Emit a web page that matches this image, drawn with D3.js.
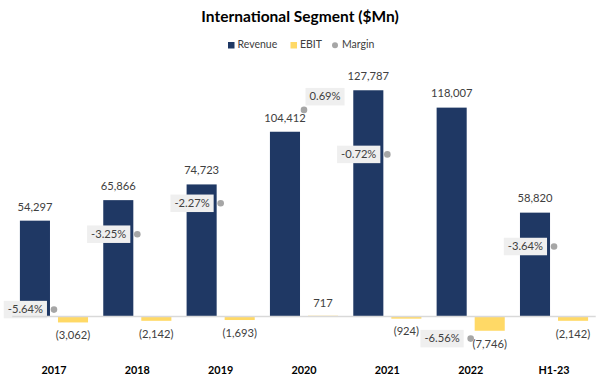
<!DOCTYPE html>
<html>
<head>
<meta charset="utf-8">
<script src="https://cdn.jsdelivr.net/npm/d3@7"></script>
<style>
  body { margin: 0; background: #fff; }
  text { font-family: Lato, "Open Sans", sans-serif; }
</style>
</head>
<body>
<div id="chart"></div>
<script>
const categories = ['2017', '2018', '2019', '2020', '2021', '2022', 'H1-23'];
const revenue = [54297, 65866, 74723, 104412, 127787, 118007, 58820];
const ebit = [-3062, -2142, -1693, 717, -924, -7746, -2142];
const margin = [-5.64, -3.25, -2.27, 0.69, -0.72, -6.56, -3.64];

const W = 600, H = 383;
const PLOT = { LEFT: 12.3, RIGHT: 595.7, TOP: 68.6, BOTTOM: 352.5 };
const COLORS = { revenue: '#1f3864', ebit: '#ffd966', margin: '#a6a6a6', label: '#404040' };

const data = categories.map((c, i) => ({ cat: c, revenue: revenue[i], ebit: ebit[i], margin: margin[i] }));

const svg = d3.select('#chart').append('svg')
    .attr('width', W)
    .attr('height', H);

// title
svg.append('text')
    .attr('x', 300).attr('y', 18)
    .attr('text-anchor', 'middle')
    .attr('dominant-baseline', 'middle')
    .attr('font-size', 15.5)
    .attr('font-weight', 700)
    .attr('fill', '#000')
    .text('International Segment ($Mn)');

// legend
const legend = svg.append('g').attr('font-size', 10.5).attr('fill', COLORS.label);
legend.append('rect').attr('x', 228).attr('y', 42).attr('width', 6.5).attr('height', 6.5).attr('fill', COLORS.revenue);
legend.append('text').attr('x', 237.5).attr('y', 45.5).attr('dominant-baseline', 'middle').attr('fill', COLORS.label).text('Revenue');
legend.append('rect').attr('x', 290.5).attr('y', 42).attr('width', 6.5).attr('height', 6.5).attr('fill', COLORS.ebit);
legend.append('text').attr('x', 300).attr('y', 45.5).attr('dominant-baseline', 'middle').attr('fill', COLORS.label).text('EBIT');
legend.append('circle').attr('cx', 335).attr('cy', 45.3).attr('r', 3).attr('fill', COLORS.margin);
legend.append('text').attr('x', 342).attr('y', 45.5).attr('dominant-baseline', 'middle').attr('fill', COLORS.label).text('Margin');

// scales
const x = d3.scaleBand()
    .domain(categories)
    .range([PLOT.LEFT, PLOT.RIGHT]);

const x1 = d3.scaleBand()
    .domain(['revenue', 'ebit'])
    .range([0, x.bandwidth()])
    .paddingInner(0.21)
    .paddingOuter(0.2);

const y = d3.scaleLinear()
    .domain([-20000, 140000])
    .range([PLOT.BOTTOM, PLOT.TOP]);

const y2 = d3.scaleLinear()
    .domain([-7, 2])
    .range([PLOT.BOTTOM, PLOT.TOP]);

const fmt = d3.format(',');
const fmtNum = v => v < 0 ? '(' + fmt(-v) + ')' : fmt(v);

const groups = svg.selectAll('g.cat').data(data).enter()
    .append('g')
    .attr('class', 'cat')
    .attr('transform', d => `translate(${x(d.cat)},0)`);

// revenue bars
groups.append('rect')
    .attr('x', x1('revenue'))
    .attr('width', x1.bandwidth())
    .attr('y', d => y(d.revenue))
    .attr('height', d => y(0) - y(d.revenue))
    .attr('fill', COLORS.revenue);

// ebit bars
groups.append('rect')
    .attr('x', x1('ebit'))
    .attr('width', x1.bandwidth())
    .attr('y', d => Math.min(y(0), y(d.ebit)))
    .attr('height', d => Math.abs(y(d.ebit) - y(0)))
    .attr('fill', COLORS.ebit);

// zero line (drawn over the bars like the category axis)
svg.append('line')
    .attr('x1', PLOT.LEFT).attr('x2', PLOT.RIGHT)
    .attr('y1', y(0) - 0.5).attr('y2', y(0) - 0.5)
    .attr('stroke', '#d9d9d9')
    .attr('stroke-width', 1.4);

// revenue labels
groups.append('text')
    .attr('x', x1('revenue') + x1.bandwidth() / 2)
    .attr('y', d => y(d.revenue) - 13)
    .attr('text-anchor', 'middle')
    .attr('dominant-baseline', 'middle')
    .attr('font-size', 11.2)
    .attr('fill', COLORS.label)
    .text(d => fmtNum(d.revenue));

// ebit labels
groups.append('text')
    .attr('x', x1('ebit') + x1.bandwidth() / 2)
    .attr('y', d => d.ebit < 0 ? y(d.ebit) + 14 : y(d.ebit) - 12)
    .attr('text-anchor', 'middle')
    .attr('dominant-baseline', 'middle')
    .attr('font-size', 11.2)
    .attr('fill', COLORS.label)
    .text(d => fmtNum(d.ebit));

// category labels
groups.append('text')
    .attr('x', x.bandwidth() / 2)
    .attr('y', 371)
    .attr('text-anchor', 'middle')
    .attr('dominant-baseline', 'middle')
    .attr('font-size', 10.8)
    .attr('font-weight', 700)
    .attr('fill', '#000')
    .text(d => d.cat);

// margin points + boxed labels
const mg = groups.append('g')
    .attr('transform', d => `translate(${x.bandwidth() / 2},${y2(d.margin)})`);

mg.append('circle')
    .attr('r', 3.3)
    .attr('fill', COLORS.margin);

mg.each(function(d) {
    const g = d3.select(this);
    const t = g.append('text')
        .attr('font-size', 11.2)
        .attr('fill', COLORS.label)
        .attr('dominant-baseline', 'middle')
        .text(d.margin.toFixed(2) + '%');
    const tw = t.node().getComputedTextLength();
    const bw = tw + 8, bh = 17.5;
    let bx, by;
    if (d.margin >= 0) {
        bx = 1.5; by = -22;
    } else {
        bx = -7 - bw; by = -bh / 2;
    }
    g.insert('rect', 'text')
        .attr('x', bx).attr('y', by)
        .attr('width', bw).attr('height', bh)
        .attr('fill', '#efefef');
    t.attr('x', bx + 4).attr('y', by + bh / 2 + 0.5);
});
</script>
</body>
</html>
